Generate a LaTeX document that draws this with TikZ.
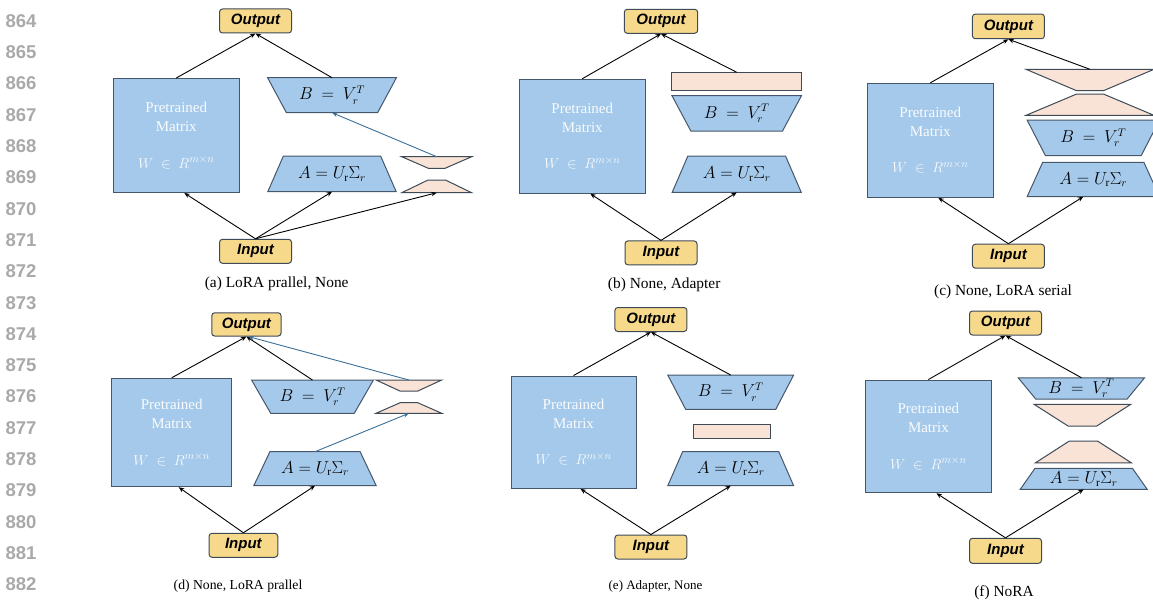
\documentclass[tikz,border=0pt]{standalone}
\usepackage{fontspec}
\setmainfont{Liberation Serif}
\setsansfont{Liberation Sans}
\usetikzlibrary{arrows.meta,shapes.geometric,positioning}

\definecolor{ioyellow}{HTML}{F7D98B}
\definecolor{ioedge}{HTML}{3F4A58}
\definecolor{matblue}{HTML}{A5C9EA}
\definecolor{matedge}{HTML}{46576B}
\definecolor{peach}{HTML}{F8E3D6}
\definecolor{peachedge}{HTML}{3E4A56}
\definecolor{steel}{HTML}{3A6F98}
\definecolor{linegray}{HTML}{A9A9A9}

\tikzset{
  io/.style={rectangle,rounded corners=3pt,draw=ioedge,fill=ioyellow,line width=1pt,
    minimum width=72pt,minimum height=24pt,inner sep=0pt,
    font=\sffamily\bfseries\itshape\fontsize{15}{18}\selectfont},
  pretrained/.style={rectangle,draw=matedge,fill=matblue,line width=1pt,
    minimum width=126pt,minimum height=114pt,inner sep=0pt,align=center,
    text=white!93!matblue,font=\fontsize{15}{18.7}\selectfont},
  lowrank/.style={trapezium,trapezium stretches=true,draw=matedge,fill=matblue,
    line width=1pt,inner sep=0pt,outer sep=0pt,font=\fontsize{16.2}{18}\selectfont},
  adapter/.style={trapezium,trapezium stretches=true,draw=peachedge,fill=peach,
    line width=1pt,inner sep=1pt,outer sep=0pt},
  adaptbox/.style={rectangle,draw=peachedge,fill=peach,line width=1pt,inner sep=0pt},
  trap/.style n args={3}{minimum width=#1,minimum height=#2,trapezium angle=#3},
  flip/.style={shape border rotate=180},
  caption/.style={font=\fontsize{15.4}{18}\selectfont},
  lineno/.style={text=linegray,font=\sffamily\bfseries\fontsize{18.5}{20}\selectfont},
  flow/.style={-{Stealth[length=5.5pt,width=4.5pt]},line width=0.9pt},
  side/.style={flow,draw=steel},
}

\newcommand{\wtext}{Pretrained\\Matrix\\[18pt]$W\ \in\ R^{m\times n}$}
\newcommand{\btext}{$B\ =\ V_r^T$}
\newcommand{\atext}{$A=U_{\mathrm{r}}\Sigma_r$}

\begin{document}
\begin{tikzpicture}[x=1pt,y=-1pt]
  \useasboundingbox (0,0) rectangle (1153,604);
  % line numbers
  \foreach \n [count=\k from 0] in {864,...,882}
    \node[lineno] (ln\n) at (21,{21+31.3*\k}) {\n};

  % (a)
  \node[io] (outA) at (255.5,21) {Output};
  \node[pretrained] (matA) at (176.3,135.5) {\wtext};
  \node[lowrank,flip,trap={129.4}{35}{53}] (bA) at (332,95.2) {\btext};
  \node[lowrank,trap={129.4}{35.7}{53}] (aA) at (332,173.9) {\atext};
  \node[adapter,flip,trap={70}{11.6}{32}] (upA) at (436.7,162.5) {};
  \node[adapter,trap={70}{12.7}{34}] (dnA) at (436.7,186.4) {};
  \node[io] (inA) at (255.5,251.3) {Input};
  \node[caption] (capA) at (276.7,283.3) {(a) LoRA prallel, None};
  \draw[flow] (matA.north) -- (outA.south);
  \draw[flow] (bA.north) -- (outA.south);
  \draw[flow] (inA.north) -- ([xshift=8pt]matA.south);
  \draw[flow] (inA.north) -- (aA.south);
  \draw[flow] (inA.north) -- (dnA.south);
  \draw[side] (upA.north) -- (bA.south);

  % (b)
  \node[io,minimum width=73.4pt] (outB) at (661,21.3) {Output};
  \node[pretrained] (matB) at (582.3,136.2) {\wtext};
  \node[adaptbox,minimum width=130pt,minimum height=17.3pt] (adB) at (736.7,81.4) {};
  \node[lowrank,flip,trap={130}{35.3}{53}] (bB) at (736.7,113.4) {\btext};
  \node[lowrank,trap={130}{36.3}{53}] (aB) at (736.7,174.2) {\atext};
  \node[io] (inB) at (661,252.9) {Input};
  \node[caption] (capB) at (664.2,284.3) {(b) None, Adapter};
  \draw[flow] (matB.north) -- (outB.south);
  \draw[flow] (adB.north) -- (outB.south);
  \draw[flow] (inB.north) -- ([xshift=8pt]matB.south);
  \draw[flow] (inB.north) -- (aB.south);

  % (c)
  \node[io,minimum height=24.7pt] (outC) at (1008.4,26.4) {Output};
  \node[pretrained] (matC) at (930.3,140.3) {\wtext};
  \node[adapter,flip,trap={128}{21.4}{28}] (upC) at (1090,80) {};
  \node[adapter,trap={128}{21.3}{28}] (dnC) at (1090,104.7) {};
  \node[lowrank,flip,trap={133.3}{35.7}{55}] (bC) at (1093.3,137.9) {\btext};
  \node[lowrank,trap={133.3}{34.4}{54}] (aC) at (1093.3,179.5) {\atext};
  \node[io] (inC) at (1008.4,256.2) {Input};
  \node[caption] (capC) at (1003,291.7) {(c) None, LoRA serial};
  \draw[flow] (matC.north) -- (outC.south);
  \draw[flow] (upC.north) -- (outC.south);
  \draw[flow] (inC.north) -- ([xshift=8pt]matC.south);
  \draw[flow] (inC.north) -- ([xshift=-10pt]aC.south);

  % (d)
  \node[io,minimum width=69.3pt,minimum height=23.3pt] (outD) at (246.4,324.4) {Output};
  \node[pretrained,minimum width=120pt,minimum height=108.4pt] (matD) at (171.7,432.5) {\wtext};
  \node[lowrank,flip,trap={123}{33.3}{50}] (bD) at (312.5,396.7) {\btext};
  \node[adapter,flip,trap={65.7}{11}{37}] (upD) at (408.9,385.5) {};
  \node[adapter,trap={65.7}{10.6}{36}] (dnD) at (408.9,408) {};
  \node[lowrank,trap={123.4}{34}{50}] (aD) at (315,468.7) {\atext};
  \node[io,minimum width=68.7pt] (inD) at (243.4,545.3) {Input};
  \node[caption,font=\fontsize{13.7}{16}\selectfont] (capD) at (238,586) {(d) None, LoRA prallel};
  \draw[flow] (matD.north) -- (outD.south);
  \draw[flow] (bD.north) -- (outD.south);
  \draw[side] (upD.north) -- ([xshift=2pt]outD.south);
  \draw[side] (aD.north) -- (dnD.south);
  \draw[flow] (inD.north) -- ([xshift=7pt]matD.south);
  \draw[flow] (inD.north) -- (aD.south);

  % (e)
  \node[io] (outE) at (650.9,319.5) {Output};
  \node[pretrained,minimum width=125pt,minimum height=112.3pt] (matE) at (573.5,432.2) {\wtext};
  \node[lowrank,flip,trap={126.7}{34.3}{54}] (bE) at (730.7,392.2) {\btext};
  \node[adaptbox,minimum width=77.4pt,minimum height=14.3pt] (adE) at (732,431.2) {};
  \node[lowrank,trap={126.7}{34}{54}] (aE) at (730.7,468.7) {\atext};
  \node[io] (inE) at (650.9,547) {Input};
  \node[caption,font=\fontsize{13}{16}\selectfont] (capE) at (655.5,586.7) {(e) Adapter, None};
  \draw[flow] (matE.north) -- (outE.south);
  \draw[flow] (bE.north) -- (outE.south);
  \draw[flow] (inE.north) -- ([xshift=7pt]matE.south);
  \draw[flow] (inE.north) -- (aE.south);

  % (f)
  \node[io] (outF) at (1005.5,323) {Output};
  \node[pretrained,minimum width=125.3pt,minimum height=112.7pt] (matF) at (928.4,436.4) {\wtext};
  \node[lowrank,flip,trap={127.3}{21.3}{55}] (bF) at (1081.4,388.4) {\btext};
  \node[adapter,flip,trap={96.7}{21.7}{40}] (upF) at (1082.4,415.2) {};
  \node[adapter,trap={95.7}{21.7}{40}] (dnF) at (1083.4,451.9) {};
  \node[lowrank,trap={127.3}{21}{54.5}] (aF) at (1083.7,478.8) {\atext};
  \node[io,minimum height=25pt] (inF) at (1005.5,550.8) {Input};
  \node[caption] (capF) at (1004,592.7) {(f) NoRA};
  \draw[flow] (matF.north) -- (outF.south);
  \draw[flow] (bF.north) -- (outF.south);
  \draw[flow] (inF.north) -- ([xshift=8pt]matF.south);
  \draw[flow] (inF.north) -- (aF.south);
\end{tikzpicture}
\end{document}
